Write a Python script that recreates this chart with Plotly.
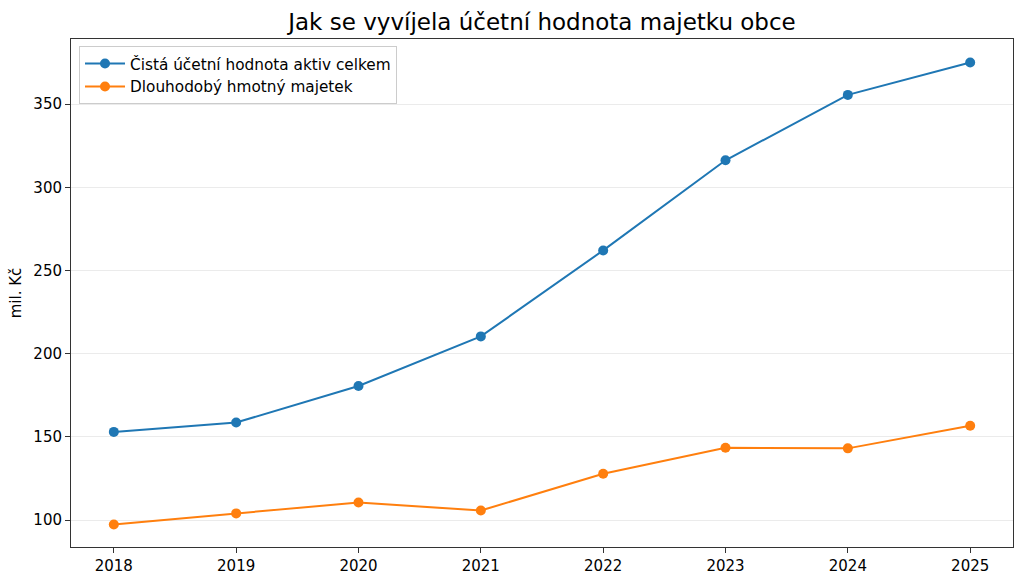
import plotly.graph_objects as go

years = [2018, 2019, 2020, 2021, 2022, 2023, 2024, 2025]
aktiva_celkem = [153.0, 158.6, 180.6, 210.4, 262.1, 316.3, 355.6, 375.1]
dlouhodoby_majetek = [97.3, 104.0, 110.6, 105.7, 127.8, 143.5, 143.1, 156.7]
series_names = ["Čistá účetní hodnota aktiv celkem", "Dlouhodobý hmotný majetek"]
colors = ["#1f77b4", "#ff7f0e"]
y_ticks = [100, 150, 200, 250, 300, 350]

fig = go.Figure()
for name, vals, c in zip(series_names, [aktiva_celkem, dlouhodoby_majetek], colors):
    fig.add_trace(go.Scatter(
        x=years, y=vals, name=name, mode="lines+markers",
        line=dict(color=c, width=2),
        marker=dict(color=c, size=10),
    ))

font = "DejaVu Sans"
fig.update_layout(
    width=1024, height=583,
    margin=dict(l=71, r=11, t=39, b=36, autoexpand=False),
    paper_bgcolor="white", plot_bgcolor="white",
    font=dict(family=font, size=15, color="black"),
    title=dict(text="Jak se vyvíjela účetní hodnota majetku obce",
               x=0.5, xanchor="center", y=0.962, yanchor="middle",
               xref="paper", font=dict(size=23, family=font)),
    showlegend=True,
    legend=dict(x=0.0085, y=0.986, xanchor="left", yanchor="top",
                bgcolor="rgba(255,255,255,0.8)", bordercolor="#cccccc", borderwidth=1,
                font=dict(size=15.3, family=font), tracegroupgap=0, itemwidth=40),
    xaxis=dict(range=[2017.65, 2025.35], tickmode="array", tickvals=years,
               ticktext=[str(y) for y in years], automargin=False,
               showgrid=False, zeroline=False,
               showline=True, linecolor="#333333", linewidth=1, mirror=True,
               ticks="outside", ticklen=5, tickcolor="#333333",
               tickfont=dict(size=15)),
    yaxis=dict(range=[83.8, 389.2], tickmode="array", tickvals=y_ticks,
               automargin=False,
               showgrid=True, gridcolor="#ebebeb", gridwidth=1, zeroline=False,
               showline=True, linecolor="#333333", linewidth=1, mirror=True,
               ticks="outside", ticklen=5, tickcolor="#333333",
               tickfont=dict(size=15),
               title=dict(text="mil. Kč", font=dict(size=15), standoff=8)),
)

fig.write_html("out.html")
